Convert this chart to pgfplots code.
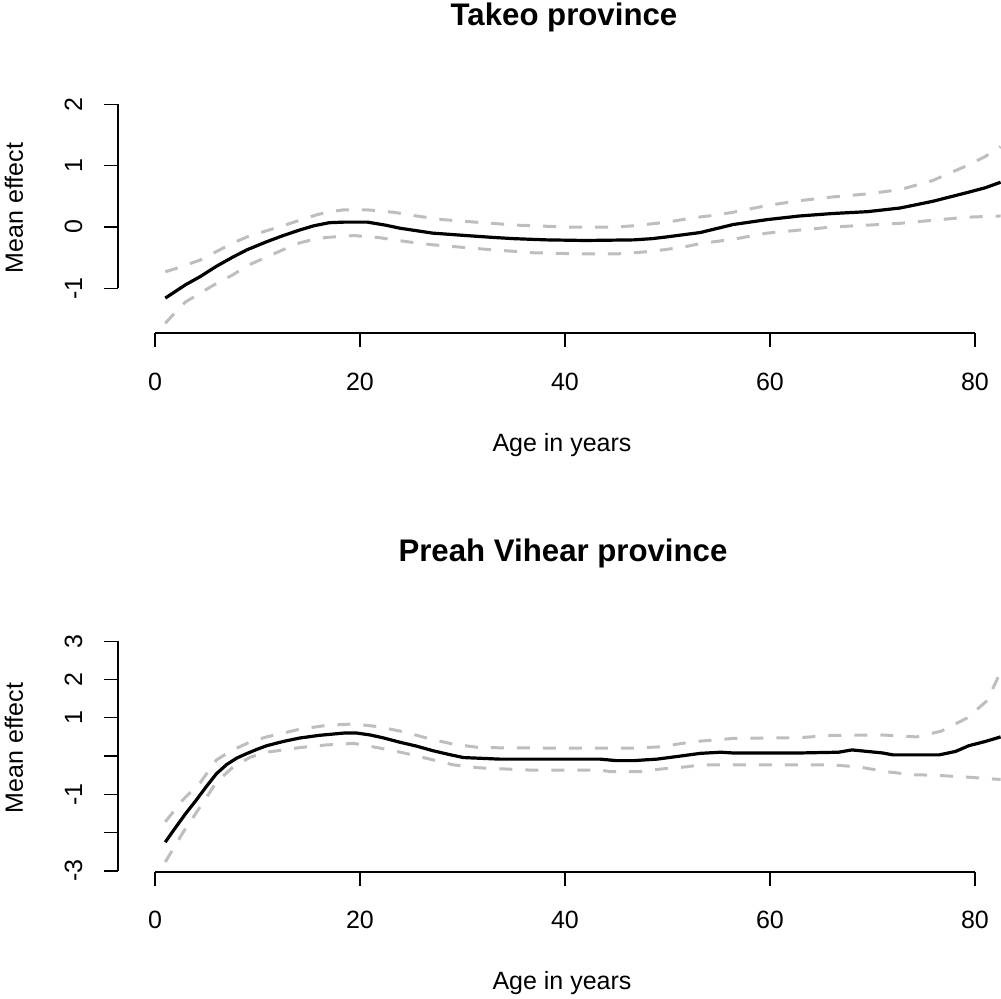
\documentclass[border=0pt]{standalone}
\usepackage{pgfplots}
\pgfplotsset{compat=1.18}
\usepackage{fontspec}
\setmainfont{Liberation Sans}
\definecolor{cigray}{RGB}{190,190,190}
\begin{document}
\fontsize{12.5}{15}\selectfont
\begin{tikzpicture}
\path[use as bounding box] (0,0) rectangle (500.5pt,499pt);
\pgfplotsset{
  rstyle/.style={
    scale only axis, anchor=south west, width=441.5pt,
    xmin=-3.61, xmax=82.54,
    axis x line*=bottom, axis y line*=left,
    axis line style={draw=none},
    xtick={0,20,40,60,80}, xticklabels={},
    yticklabels={},
    tick align=outside, major tick length=7pt,
    every tick/.style={black, line width=0.7pt},
    clip=false,
  },
  meanline/.style={black, line width=1.6pt, no marks},
  ciline/.style={cigray, line width=1.5pt, dash pattern=on 6.5pt off 6.5pt, no marks},
}
% ---------------- Top panel ----------------
\begin{axis}[rstyle, at={(59pt,332.5pt)}, height=125pt, ymin=-1.729, ymax=2.349, ytick={-1,0,1,2}]
\addplot[ciline] coordinates {
(1,-0.73) (2,-0.68) (3,-0.62) (4.4,-0.54) (6,-0.40) (7.6,-0.26) (9,-0.16) (10.9,-0.06)
(12.5,0.02) (14.1,0.11) (15.8,0.20) (17,0.25) (18.4,0.28) (20.7,0.28) (23.3,0.24)
(25.5,0.18) (28.1,0.12) (32,0.07) (35.3,0.03) (40.1,0.0) (45,0.0) (46.7,0.02) (50,0.08)
(52.5,0.15) (54.5,0.19) (56.4,0.24) (59.7,0.35) (62.9,0.43) (66.1,0.49) (69.5,0.54)
(72.7,0.61) (75.9,0.76) (79.2,1.00) (81,1.15) (82.5,1.31)};
\addplot[ciline] coordinates {
(1,-1.57) (2,-1.39) (3,-1.22) (4.4,-1.08) (6,-0.92) (7.6,-0.78) (9,-0.63) (10.9,-0.49)
(12.5,-0.37) (14.1,-0.26) (15.5,-0.20) (16.7,-0.17) (19.4,-0.14) (21.7,-0.17) (24.6,-0.24)
(27.1,-0.29) (32,-0.36) (36.9,-0.42) (41.8,-0.44) (45,-0.44) (48.3,-0.40) (51.5,-0.33)
(53.2,-0.27) (56.4,-0.20) (59.7,-0.10) (62.9,-0.05) (66.1,0.0) (69.5,0.03) (72.7,0.06)
(75.9,0.11) (79.2,0.16) (82.5,0.18)};
\addplot[meanline] coordinates {
(1,-1.16) (2,-1.05) (3,-0.94) (4.4,-0.81) (6,-0.64) (7.6,-0.49) (9,-0.37) (10.9,-0.24)
(12.5,-0.14) (14.1,-0.05) (15.5,0.02) (17,0.07) (18.5,0.08) (20.7,0.08) (22.5,0.03)
(23.9,-0.02) (25.5,-0.06) (27.1,-0.10) (30.4,-0.14) (33,-0.17) (35,-0.19) (38.2,-0.21)
(42,-0.22) (46.7,-0.21) (48.5,-0.19) (50,-0.16) (53.2,-0.09) (56.4,0.04) (59.7,0.12)
(62.9,0.18) (66.1,0.22) (69.5,0.25) (72.7,0.31) (75.9,0.42) (79.2,0.56) (81,0.64) (82.5,0.73)};
\draw[line width=0.7pt] (axis cs:0,-1.729) -- (axis cs:80,-1.729);
\draw[line width=0.7pt] (axis cs:-3.61,-1) -- (axis cs:-3.61,2);
\pgfplotsinvokeforeach{0,20,40,60,80}{\node[anchor=base] at ([yshift=-28.5pt]axis cs:#1,-1.729) {#1};}
\pgfplotsinvokeforeach{-1,0,1,2}{\node[rotate=90,anchor=base] at ([xshift=-18pt]axis cs:-3.61,#1) {#1};}
\end{axis}
% ---------------- Bottom panel ----------------
\begin{axis}[rstyle, at={(59pt,63pt)}, height=124pt, ymin=-3.03, ymax=3.45, ytick={-3,-2,-1,0,1,2,3}]
\addplot[ciline] coordinates {
(1,-1.72) (2.7,-1.15) (4.4,-0.70) (6,-0.10) (7.6,0.16) (9.3,0.37) (10.9,0.50) (12.5,0.60)
(14.1,0.70) (16.7,0.80) (19.4,0.84) (21.7,0.77) (24.3,0.63) (26.8,0.45) (29.1,0.31)
(31.7,0.22) (36.9,0.21) (46.7,0.21) (49.3,0.24) (51.9,0.35) (53.2,0.39) (56.4,0.46)
(62.9,0.48) (66,0.54) (71,0.55) (74.3,0.50) (76.7,0.65) (79.2,0.99) (81.2,1.45) (82.5,2.2)};
\addplot[ciline] coordinates {
(1,-2.77) (2.7,-2.01) (4.4,-1.33) (6,-0.68) (7.6,-0.29) (9.3,-0.03) (10.9,0.10) (14.1,0.22)
(16.7,0.29) (19.4,0.33) (21.7,0.22) (24.3,0.08) (26.8,-0.08) (29.1,-0.23) (31.7,-0.31)
(36.9,-0.37) (43.4,-0.37) (44.6,-0.41) (47.2,-0.41) (49.3,-0.34) (51.9,-0.28) (53.2,-0.23)
(66.1,-0.23) (68.8,-0.29) (71.4,-0.41) (74,-0.49) (76,-0.50) (79.2,-0.55) (81.8,-0.60) (82.5,-0.61)};
\addplot[meanline] coordinates {
(1,-2.25) (2,-1.87) (3,-1.50) (4,-1.16) (5,-0.80) (6,-0.46) (7,-0.22) (8,-0.05) (9,0.07)
(10,0.18) (10.9,0.27) (12.5,0.38) (14.1,0.47) (16,0.54) (18.4,0.60)
(19.7,0.60) (21,0.55) (22.2,0.48) (23.9,0.36) (25.5,0.26) (27.1,0.14) (28.7,0.04) (30.1,-0.04)
(33.6,-0.08) (43.4,-0.08) (45,-0.12) (46.7,-0.12) (49,-0.08) (51,-0.01) (53.2,0.07) (55.2,0.10)
(56.4,0.08) (62.9,0.08) (66.7,0.10) (68,0.16) (69.5,0.12) (71,0.08) (72,0.03) (76.5,0.03)
(78.1,0.12) (79.4,0.27) (81,0.38) (82.5,0.50)};
\draw[line width=0.7pt] (axis cs:0,-3.03) -- (axis cs:80,-3.03);
\draw[line width=0.7pt] (axis cs:-3.61,-3) -- (axis cs:-3.61,3);
\pgfplotsinvokeforeach{0,20,40,60,80}{\node[anchor=base] at ([yshift=-28pt]axis cs:#1,-3.03) {#1};}
\pgfplotsinvokeforeach{-3,-1,1,2,3}{\node[rotate=90,anchor=base] at ([xshift=-18pt]axis cs:-3.61,#1) {#1};}
\end{axis}
% ---------------- Titles and labels ----------------
\node[anchor=base, font=\bfseries\fontsize{15.6}{18}\selectfont] at (282pt,486pt) {Takeo province};
\node[anchor=base, font=\bfseries\fontsize{15.6}{18}\selectfont] at (281.5pt,218.5pt) {Preah Vihear province};
\node[anchor=base] at (281pt,273.5pt) {Age in years};
\node[anchor=base] at (281pt,4.5pt) {Age in years};
\node[rotate=90,anchor=base] at (11.5pt,395pt) {Mean effect};
\node[rotate=90,anchor=base] at (11.5pt,125pt) {Mean effect};
\end{tikzpicture}
\end{document}
